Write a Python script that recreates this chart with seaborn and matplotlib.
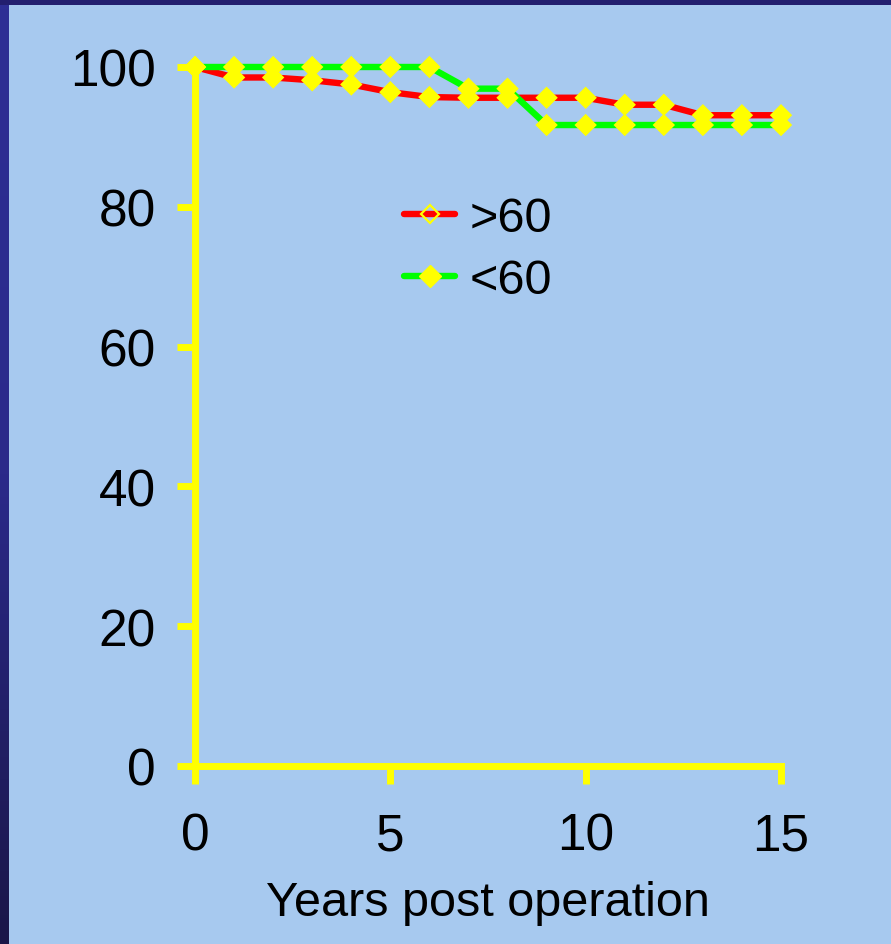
import numpy as np
import pandas as pd
import matplotlib
matplotlib.use("Agg")
import matplotlib.pyplot as plt
from matplotlib.lines import Line2D
from matplotlib.patches import Rectangle
import seaborn as sns

# Survival (%) by year after operation, two age groups
years = list(range(16))
over_60 = [100, 98.5, 98.5, 98.1, 97.5, 96.4, 95.7, 95.6, 95.6, 95.6, 95.6, 94.6, 94.6, 93.1, 93.1, 93.1]
under_60 = [100, 100, 100, 100, 100, 100, 100, 96.9, 96.9, 91.7, 91.7, 91.7, 91.7, 91.7, 91.7, 91.7]
group_labels = [">60", "<60"]
x_ticks = [0, 5, 10, 15]
y_ticks = [0, 20, 40, 60, 80, 100]
x_label = "Years post operation"

df = pd.DataFrame({
    "year": years * 2,
    "survival": over_60 + under_60,
    "group": [group_labels[0]] * len(years) + [group_labels[1]] * len(years),
})

sns.set_theme(style="white")
plt.rcParams["font.family"] = ["Liberation Sans", "DejaVu Sans"]
plt.rcParams["text.color"] = "black"
plt.rcParams["axes.labelcolor"] = "black"

BG = "#A7C9EF"
YELLOW = "#FFFF00"
palette = {">60": "#FF0000", "<60": "#00FF00"}

fig = plt.figure(figsize=(8.91, 9.45), dpi=100, facecolor=BG)

# dark frame along top and left edges
W, H = 891, 945
fig.patches.append(Rectangle((0, 1 - 6 / H), 1, 6 / H, transform=fig.transFigure,
                             facecolor="#231F6F", edgecolor="none", zorder=0))
grad_ax = fig.add_axes([0, 0, 9 / W, 1 - 6 / H])
grad = np.linspace(0, 1, 256).reshape(-1, 1)
cmap = matplotlib.colors.LinearSegmentedColormap.from_list("edge", ["#2E2F95", "#2B2A8A", "#1A1648"])
grad_ax.imshow(grad, aspect="auto", cmap=cmap, extent=[0, 1, 0, 1], origin="upper")
grad_ax.set_axis_off()

ax = fig.add_axes([195 / W, 1 - 767 / H, (781 - 195) / W, (767 - 68) / H])
ax.set_facecolor(BG)

# lines first, markers on top of both lines
for g in [">60", "<60"]:
    sub = df[df["group"] == g]
    sns.lineplot(data=sub, x="year", y="survival", color=palette[g], linewidth=4.6,
                 ax=ax, legend=False, zorder=3, clip_on=False)
sns.scatterplot(data=df, x="year", y="survival", color=YELLOW, marker="D", s=130,
                edgecolor="none", ax=ax, legend=False, zorder=5, clip_on=False)

ax.set_xlim(0, 15)
ax.set_ylim(0, 100)
ax.set_xticks(x_ticks)
ax.set_yticks(y_ticks)
ax.set_xlabel(x_label, fontsize=35, color="black", labelpad=14)
ax.set_ylabel("")

for side in ["top", "right"]:
    ax.spines[side].set_visible(False)
for side in ["left", "bottom"]:
    ax.spines[side].set_color(YELLOW)
    ax.spines[side].set_linewidth(5)
    ax.spines[side].set_capstyle("projecting")

ax.tick_params(axis="both", which="major", direction="out", length=13, width=5,
               color=YELLOW, labelsize=37, labelcolor="black", bottom=True, left=True)
ax.tick_params(axis="y", pad=15)
ax.tick_params(axis="x", pad=20)

handles = [
    Line2D([0], [0], color=palette[">60"], linewidth=4.6, marker="D", markersize=9,
           markerfacecolor="none", markeredgecolor=YELLOW, markeredgewidth=1.6),
    Line2D([0], [0], color=palette["<60"], linewidth=4.6, marker="D", markersize=11,
           markerfacecolor=YELLOW, markeredgecolor=YELLOW),
]
leg = fig.legend(handles, group_labels, loc="upper left", bbox_to_anchor=(385 / W, 1 - 178 / H),
                 frameon=False, fontsize=35, handlelength=1.05, handletextpad=0.3,
                 labelspacing=0.35, borderaxespad=0)
for t in leg.get_texts():
    t.set_color("black")

fig.savefig("out.png", dpi=100, facecolor=BG)
